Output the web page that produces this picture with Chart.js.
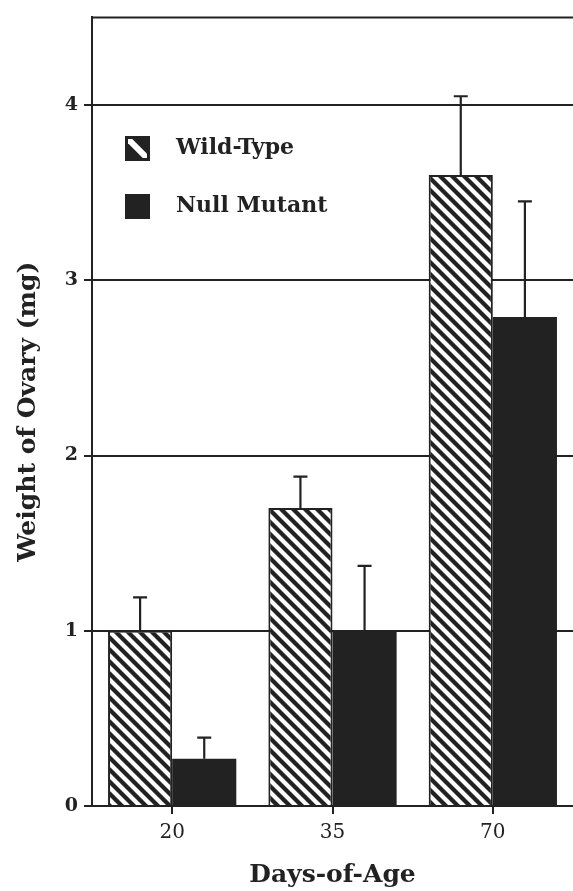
<!DOCTYPE html>
<html><head><meta charset="utf-8">
<script src="https://cdn.jsdelivr.net/npm/chart.js@4.4.0/dist/chart.umd.min.js"></script>
<style>html,body{margin:0;padding:0;background:#fff;overflow:hidden}#wrap{width:573px;height:891px;position:relative}</style>
</head><body><div id="wrap"><canvas id="c" width="573" height="891"></canvas></div>
<script>
const categories = ['20', '35', '70'];
const wildType = [1.0, 1.70, 3.60];
const wildTypeErr = [0.19, 0.18, 0.45];
const nullMutant = [0.27, 1.0, 2.79];
const nullMutantErr = [0.12, 0.37, 0.66];
const yTicks = [0, 1, 2, 3, 4];
const seriesLabels = ['Wild-Type', 'Null Mutant'];
const errors = [wildTypeErr, nullMutantErr];

const INK = '#222';

function makeHatch() {
  const p = document.createElement('canvas');
  p.width = 12; p.height = 12;
  const g = p.getContext('2d');
  g.fillStyle = '#fff'; g.fillRect(0, 0, 12, 12);
  g.strokeStyle = INK; g.lineWidth = 4.2;
  for (let k = -1; k <= 1; k++) {
    g.beginPath();
    g.moveTo(k * 12 - 3, -3);
    g.lineTo(k * 12 + 15, 15);
    g.stroke();
  }
  return g.createPattern(p, 'repeat');
}
const hatch = makeHatch();

const errorBars = {
  id: 'errorBars',
  afterDatasetsDraw(chart) {
    const ctx = chart.ctx, y = chart.scales.y;
    ctx.save();
    ctx.strokeStyle = INK; ctx.lineWidth = 2.2;
    chart.data.datasets.forEach((ds, i) => {
      const meta = chart.getDatasetMeta(i);
      meta.data.forEach((el, j) => {
        const top = y.getPixelForValue(ds.data[j] + errors[i][j]);
        ctx.beginPath();
        ctx.moveTo(el.x, el.y);
        ctx.lineTo(el.x, top);
        ctx.moveTo(el.x - 7, top);
        ctx.lineTo(el.x + 7, top);
        ctx.stroke();
      });
    });
    ctx.restore();
  }
};

const frame = {
  id: 'frame',
  afterDraw(chart) {
    const {ctx, chartArea: a} = chart;
    ctx.save();
    ctx.strokeStyle = INK; ctx.lineWidth = 2;
    ctx.beginPath();
    ctx.moveTo(a.left - 1, a.top);
    ctx.lineTo(a.right, a.top);
    ctx.stroke();
    ctx.restore();
  }
};

const customLegend = {
  id: 'customLegend',
  afterDraw(chart) {
    const ctx = chart.ctx;
    const rows = [148.5, 206.5];
    ctx.save();
    ctx.font = 'bold 22px "DejaVu Serif"';
    ctx.textBaseline = 'middle';
    ctx.textAlign = 'left';
    chart.data.datasets.forEach((ds, i) => {
      const cy = rows[i];
      const x0 = 125, s = 25, y0 = cy - s / 2;
      ctx.fillStyle = INK;
      ctx.fillRect(x0, y0, s, s);
      if (i === 0) {
        ctx.save();
        ctx.beginPath();
        ctx.rect(x0 + 3, y0 + 3, s - 6, s - 6);
        ctx.clip();
        ctx.strokeStyle = '#fff'; ctx.lineWidth = 6;
        ctx.beginPath();
        ctx.moveTo(x0, y0); ctx.lineTo(x0 + s, y0 + s);
        ctx.stroke();
        ctx.restore();
      }
      ctx.fillStyle = INK;
      ctx.fillText(ds.label, 176, cy);
    });
    ctx.restore();
  }
};

new Chart(document.getElementById('c'), {
  type: 'bar',
  data: {
    labels: categories,
    datasets: [
      { label: seriesLabels[0], data: wildType, backgroundColor: hatch, borderColor: INK, borderWidth: 2,
        categoryPercentage: 0.8, barPercentage: 1.0 },
      { label: seriesLabels[1], data: nullMutant, backgroundColor: INK, borderColor: INK, borderWidth: 0,
        categoryPercentage: 0.8, barPercentage: 1.0 }
    ]
  },
  options: {
    responsive: false,
    animation: false,
    devicePixelRatio: 1,
    layout: { padding: { top: 15, right: 0, bottom: 0, left: 0 } },
    plugins: { legend: { display: false }, tooltip: { enabled: false } },
    scales: {
      x: {
        offset: true,
        grid: { drawOnChartArea: false, offset: false, tickLength: 8, color: INK, lineWidth: 2 },
        border: { display: true, color: INK, width: 2 },
        ticks: { color: INK, font: { family: 'DejaVu Serif', size: 20 }, padding: 7, maxRotation: 0 },
        title: { display: true, text: 'Days-of-Age', color: INK,
                 font: { family: 'DejaVu Serif', size: 25, weight: 'bold' }, padding: { top: 0, bottom: 1 } },
        afterFit(s) { s.height = 85; }
      },
      y: {
        min: 0, max: 4.5,
        afterBuildTicks(s) { s.ticks = yTicks.map(v => ({ value: v })); },
        grid: { color: INK, lineWidth: 2, tickLength: 8 },
        border: { display: true, color: INK, width: 2 },
        ticks: { color: INK, font: { family: 'DejaVu Serif', size: 19, weight: 'bold' }, padding: 6 },
        title: { display: true, text: 'Weight of Ovary (mg)', color: INK,
                 font: { family: 'DejaVu Serif', size: 25, weight: 'bold' }, padding: { top: 13, bottom: 0 } },
        afterFit(s) { s.width = 92; }
      }
    }
  },
  plugins: [errorBars, frame, customLegend]
});
</script>
</body></html>
